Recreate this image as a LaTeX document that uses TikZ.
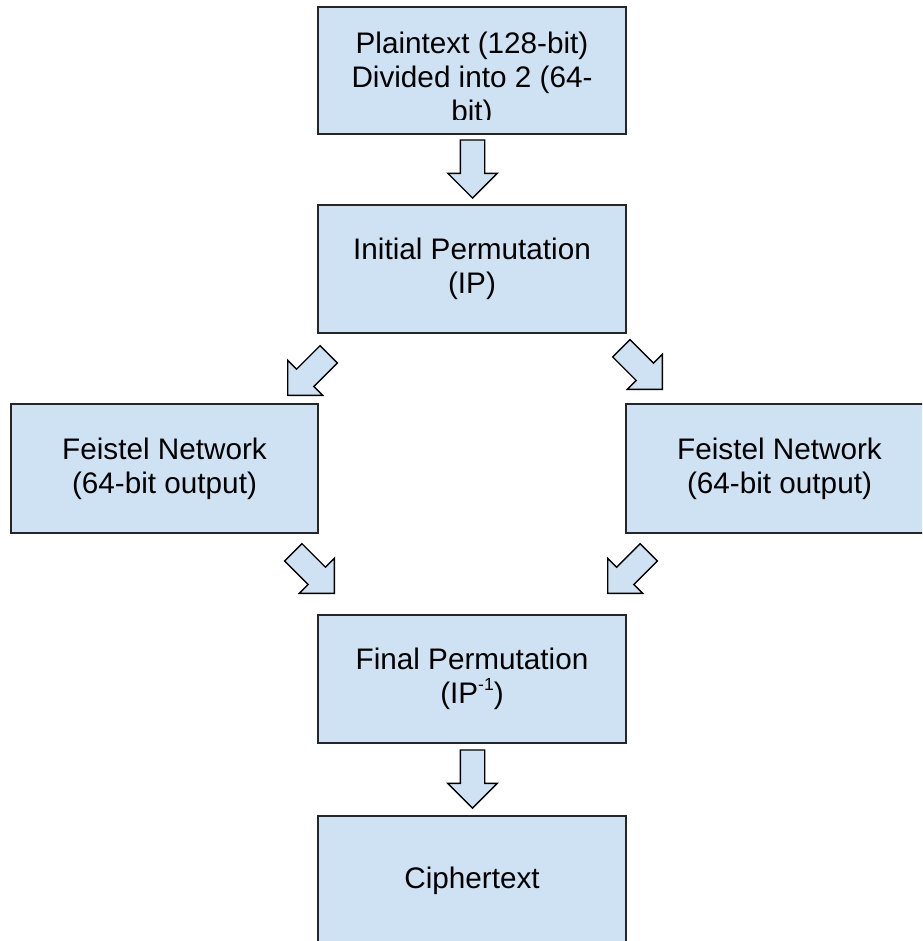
\documentclass[tikz,border=0pt]{standalone}
\usepackage{fontspec}
\setmainfont{Liberation Sans}
\usepackage{tikz}
\usetikzlibrary{shapes.arrows}

\definecolor{boxblue}{HTML}{CFE2F3}

\begin{document}
\begin{tikzpicture}[
    font=\fontsize{16.9}{19.35}\selectfont,
    block/.style={draw=black!85, fill=boxblue, line width=1.1pt,
                  minimum width=6.16cm, minimum height=2.56cm,
                  align=center, inner sep=0pt},
    flow/.style={single arrow, draw=black, fill=boxblue, line width=0.8pt,
                 minimum height=1.16cm, minimum width=0.96cm, inner sep=0.23cm,
                 single arrow head extend=0.25cm, anchor=tip},
    sup/.style={font=\fontsize{10}{12}\selectfont},
]

% --- Page frame ---
\useasboundingbox (0, 0) rectangle (18.44, -18.82);
\clip (0, 0) rectangle (18.44, -18.82);

% --- Input (text runs past the box and is cut) ---
\node[block, minimum height=2.54cm] (plain) at (9.44, -1.41) {};
\begin{scope}
  \clip ([yshift=0.3cm]plain.south west) rectangle (plain.north east);
  \node[anchor=north, align=center, inner sep=0pt] (plaintxt) at (9.44, -0.64)
      {Plaintext (128-bit)\\Divided into 2 (64-\\bit)};
\end{scope}

% --- Rounds ---
\node[block] (ip) at (9.44, -5.38) {Initial Permutation\\(IP)};

\node[block, minimum width=6.14cm, minimum height=2.58cm] (fnl) at (3.29, -9.37)
    {Feistel Network\\(64-bit output)};
\node[block, minimum width=6.14cm, minimum height=2.58cm] (fnr) at (15.59, -9.37)
    {Feistel Network\\(64-bit output)};

\node[block] (fp) at (9.44, -13.58)
    {Final Permutation\\(IP\raisebox{0.45em}{\fontsize{10}{12}\selectfont -1})};

\node[block, minimum height=2.6cm] (ct) at (9.44, -17.62) {Ciphertext};

% --- Block arrows (placed by their tips) ---
\node[flow, rotate=-90]  (a1) at (9.45, -3.98) {};
\node[flow, rotate=-135] (a2) at (5.74, -7.92) {};
\node[flow, rotate=-45]  (a3) at (13.26, -7.80) {};
\node[flow, rotate=-45]  (a4) at (6.70, -11.88) {};
\node[flow, rotate=-135] (a5) at (12.14, -11.88) {};
\node[flow, rotate=-90]  (a6) at (9.45, -16.18) {};

\end{tikzpicture}
\end{document}
